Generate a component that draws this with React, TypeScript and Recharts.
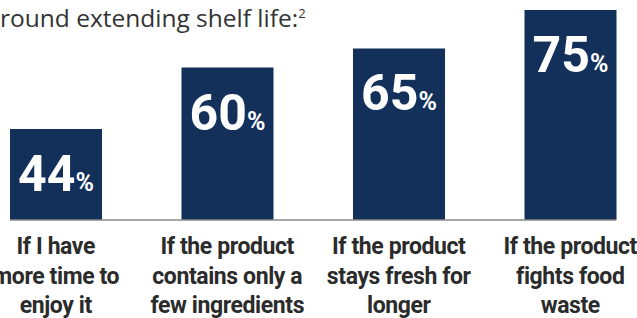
import { Bar, BarChart, LabelList, ReferenceLine, XAxis, YAxis } from "recharts";

const categories = [
  "If I have\nmore time to\nenjoy it",
  "If the product\ncontains only a\nfew ingredients",
  "If the product\nstays fresh for\nlonger",
  "If the product\nfights food\nwaste",
];
const values = [44, 60, 65, 75];
const yDomain = [20.3, 75];

const data = categories.map((name, i) => ({ name, value: values[i] }));

const NAVY = "#12305A";
const TEXT = "#2b2b2b";
const BAR_W = 92;

function CategoryTick(props: any) {
  const { x, y, payload } = props;
  const lines: string[] = String(payload.value).split("\n");
  return (
    <text
      x={x}
      y={y}
      textAnchor="middle"
      fill={TEXT}
      fontFamily="Roboto, sans-serif"
      fontWeight={700}
      fontSize={23}
      letterSpacing={-0.4}
    >
      {lines.map((l, i) => (
        <tspan key={i} x={x} y={y + 34 + i * 29.5}>
          {l}
        </tspan>
      ))}
    </text>
  );
}

function ValueLabel(props: any) {
  const { x, y, width, value } = props;
  return (
    <text
      x={x + width / 2}
      y={y + 62}
      textAnchor="middle"
      fill="#fff"
      fontFamily="Roboto, sans-serif"
      fontWeight={700}
    >
      <tspan fontSize={50}>{value}</tspan>
      <tspan fontSize={25}>%</tspan>
    </text>
  );
}

export default function App() {
  return (
    <div
      style={{
        position: "fixed",
        left: 0,
        top: 0,
        width: 637,
        height: 318,
        overflow: "hidden",
        background: "#fff",
      }}
    >
      <div
        style={{
          position: "absolute",
          left: 0,
          top: -2,
          fontFamily: "'Open Sans', sans-serif",
          fontSize: 24.5,
          color: "#333",
          whiteSpace: "nowrap",
          lineHeight: "30px",
        }}
      >
        round extending shelf life:<sup style={{ fontSize: 13 }}>2</sup>
      </div>
      <div style={{ position: "absolute", left: -30, top: 0 }}>
        <BarChart width={686} height={318} data={data} margin={{ top: 10, right: 0, left: 0, bottom: 0 }}>
          <YAxis hide domain={yDomain} allowDataOverflow />
          <XAxis
            dataKey="name"
            axisLine={false}
            tickLine={false}
            tickSize={0}
            tickMargin={0}
            height={98}
            interval={0}
            tick={<CategoryTick />}
          />
          <Bar dataKey="value" fill={NAVY} barSize={BAR_W} isAnimationActive={false}>
            <LabelList dataKey="value" content={<ValueLabel />} />
          </Bar>
          <ReferenceLine
            segment={[
              { x: categories[0], y: yDomain[0] },
              { x: categories[categories.length - 1], y: yDomain[0] },
            ]}
            ifOverflow="visible"
            shape={(p: any) => (
              <line
                x1={p.x1 - BAR_W / 2}
                x2={p.x2 + BAR_W / 2}
                y1={p.y1}
                y2={p.y2}
                stroke="#8a8a8a"
                strokeWidth={1.5}
              />
            )}
          />
        </BarChart>
      </div>
    </div>
  );
}
